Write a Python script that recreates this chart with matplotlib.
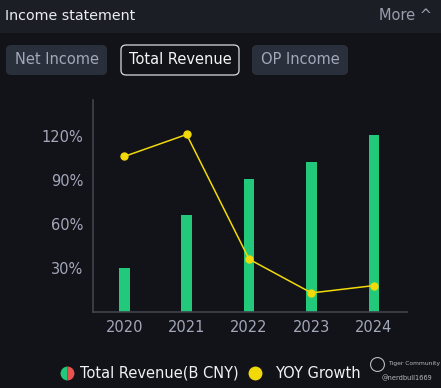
import matplotlib.pyplot as plt
from matplotlib.patches import FancyBboxPatch, Rectangle
from matplotlib.lines import Line2D

# Data
years = ['2020', '2021', '2022', '2023', '2024']
revenue = [4.5, 9.9, 13.6, 15.3, 18.1]      # B CNY (hidden axis)
yoy_growth = [106, 121, 36, 13, 18]         # %
y_ticks = [30, 60, 90, 120]
tabs = ['Net Income', 'Total Revenue', 'OP Income']

W, H = 441, 388
BG = '#111318'
HEADER_BG = '#1b1e25'
GREEN = '#22c97a'
YELLOW = '#f2d90a'
TICK_COLOR = '#a3a7ba'

fig = plt.figure(figsize=(W / 100, H / 100), dpi=100, facecolor=BG)

def fx(px):
    return px / W

def fy(py):
    return 1 - py / H

# header band
fig.add_artist(Rectangle((0, fy(33)), 1, 33 / H, transform=fig.transFigure,
                         facecolor=HEADER_BG, edgecolor='none'))
fig.text(fx(5), fy(16), 'Income statement', color='#eceef2', fontsize=10.3,
         va='center', ha='left')
fig.text(fx(432), fy(16), 'More ^', color='#9a9eae', fontsize=10.5,
         va='center', ha='right')

# tab buttons
tab_boxes = [(6, 107), (121, 239), (252, 348)]
for name, (x0, x1) in zip(tabs, tab_boxes):
    active = name == 'Total Revenue'
    box = FancyBboxPatch((fx(x0), fy(75)), fx(x1 - x0), 30 / H,
                         boxstyle='round,pad=0,rounding_size=0.012',
                         transform=fig.transFigure,
                         facecolor=BG if active else '#2a2f3c',
                         edgecolor='#d8dae0' if active else 'none', lw=0.9)
    fig.add_artist(box)
    fig.text(fx((x0 + x1) / 2), fy(60), name, fontsize=10.5, ha='center',
             va='center', color='#f4f5f7' if active else '#a3a8ba')

# chart area
ax = fig.add_axes([fx(93), fy(312), fx(407 - 93), (312 - 100) / H])
ax.set_facecolor(BG)
x = range(len(years))

ax2 = ax.twinx()
ax2.bar(x, revenue, width=0.17, color=GREEN, zorder=2)
ax2.set_ylim(0, 18.1 * 144.5 / 120.7)
ax2.axis('off')

ax.set_zorder(ax2.get_zorder() + 1)
ax.patch.set_visible(False)
ax.plot(x, yoy_growth, color=YELLOW, lw=1.1, marker='o', markersize=5,
        zorder=3)
ax.set_ylim(0, 144.5)
ax.set_xlim(-0.5, 4.53)
ax.set_yticks(y_ticks)
ax.set_yticklabels([f'{v}%' for v in y_ticks])
ax.set_xticks(list(x))
ax.set_xticklabels(years)
ax.tick_params(colors=TICK_COLOR, labelsize=10.5, length=0)
ax.tick_params(axis='y', pad=7)
ax.tick_params(axis='x', pad=6)
for side in ['top', 'right']:
    ax.spines[side].set_visible(False)
for side in ['left', 'bottom']:
    ax.spines[side].set_color('#41444e')
    ax.spines[side].set_linewidth(1.2)

# legend
fig.add_artist(Line2D([fx(67)], [fy(373)], marker='o', fillstyle='left',
                      markerfacecolor=GREEN, markerfacecoloralt='#e8524f',
                      markeredgewidth=0, markersize=10,
                      transform=fig.transFigure))
fig.text(fx(80), fy(373), 'Total Revenue(B CNY)', color='#f0f1f4',
         fontsize=10.5, va='center', ha='left')
fig.add_artist(Line2D([fx(255)], [fy(373)], marker='o', color=YELLOW,
                      markeredgewidth=0, markersize=10,
                      transform=fig.transFigure))
fig.text(fx(275), fy(373), 'YOY Growth', color='#f0f1f4', fontsize=10.5,
         va='center', ha='left')

# watermark
fig.add_artist(Line2D([fx(377)], [fy(364)], marker='o', fillstyle='none',
                      color='#b8bac2', markersize=10, markeredgewidth=0.8,
                      transform=fig.transFigure))
fig.text(fx(388), fy(363), 'Tiger Community', color='#b8bac2', fontsize=4.3,
         va='center', ha='left')
fig.text(fx(382), fy(378), '@nerdbull1669', color='#b8bac2', fontsize=4.8,
         va='center', ha='left')

fig.savefig('out.png', dpi=100, facecolor=BG)
